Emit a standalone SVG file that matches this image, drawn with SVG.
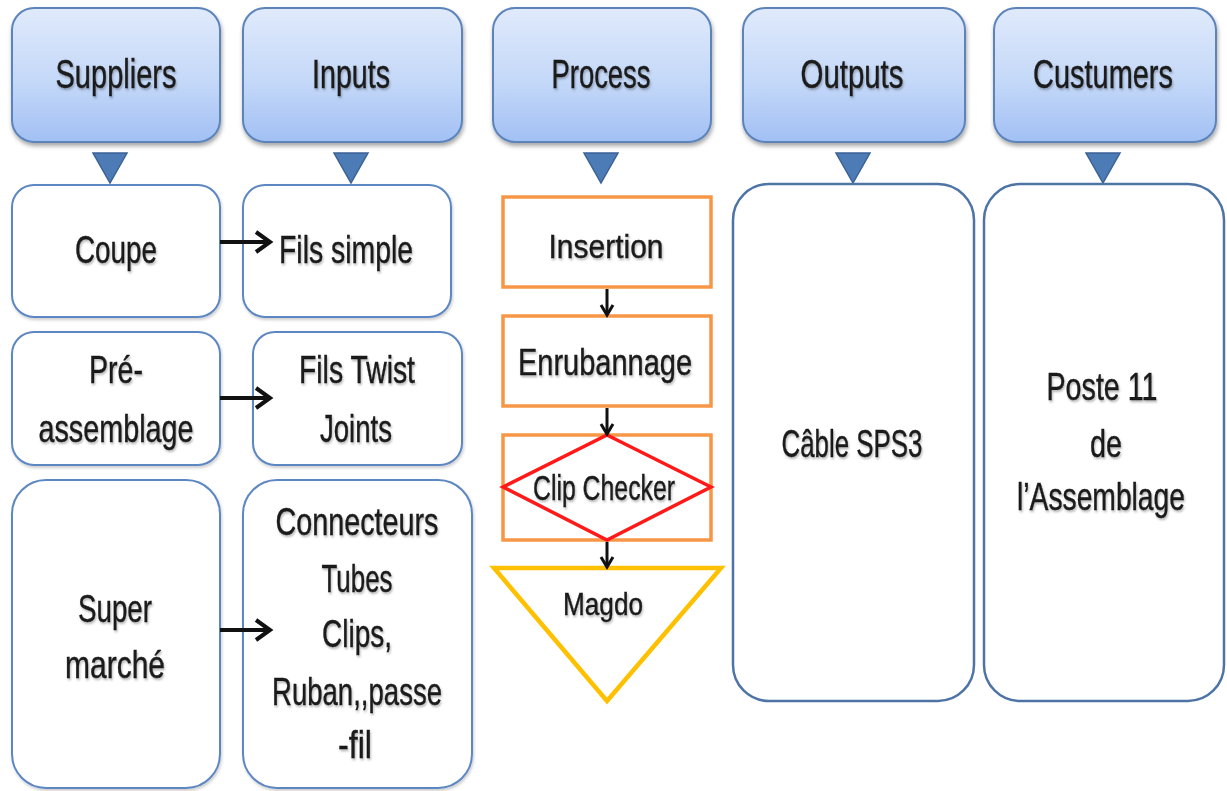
<svg xmlns="http://www.w3.org/2000/svg" width="1227" height="791" viewBox="0 0 1227 791">
  <style>
    .hdr { fill: url(#hdrGrad); stroke: #5b84bb; stroke-width: 2; filter: url(#boxShadow); }
    .box { fill: #ffffff; stroke: #5d87c2; stroke-width: 2; filter: url(#softShadow); }
    .big { fill: #ffffff; stroke: #4e74a6; stroke-width: 2.5; }
    .tri { fill: #4d7bb6; stroke: #3b6296; stroke-width: 1.5; }
    .step { fill: #ffffff; stroke: #f79646; stroke-width: 3.5; }
    .diamond { fill: none; stroke: #ff1a1a; stroke-width: 3.5; }
    .store { fill: #ffffff; stroke: #ffc000; stroke-width: 4.5; stroke-linejoin: miter; }
    .lbl { font-family: "Liberation Sans", Arial, sans-serif; fill: #1a1a1a; stroke: #1a1a1a; stroke-width: 0.4; text-anchor: middle; filter: url(#textShadow); }
    .link { stroke: #111111; stroke-width: 4; fill: none; }
    .flow { stroke: #111111; stroke-width: 3; fill: none; }
  </style>
  <defs>
    <linearGradient id="hdrGrad" x1="0" y1="0" x2="0" y2="1">
      <stop offset="0" stop-color="#e0eafb"/>
      <stop offset="0.55" stop-color="#c4d8f8"/>
      <stop offset="1" stop-color="#a2c0f4"/>
    </linearGradient>
    <filter id="boxShadow" x="-10%" y="-10%" width="125%" height="130%">
      <feDropShadow dx="1" dy="3" stdDeviation="2" flood-color="#000000" flood-opacity="0.35"/>
    </filter>
    <filter id="softShadow" x="-10%" y="-10%" width="125%" height="125%">
      <feDropShadow dx="1" dy="2" stdDeviation="1.5" flood-color="#000000" flood-opacity="0.2"/>
    </filter>
    <filter id="textShadow" x="-15%" y="-40%" width="135%" height="190%">
      <feDropShadow dx="1" dy="2" stdDeviation="1.2" flood-color="#000000" flood-opacity="0.28"/>
    </filter>
    <marker id="chevron" markerUnits="userSpaceOnUse" markerWidth="22" markerHeight="26" refX="17" refY="12" orient="auto">
      <path d="M3,2 L17,12 L3,22" fill="none" stroke="#111111" stroke-width="4"/>
    </marker>
    <marker id="chevronSmall" markerUnits="userSpaceOnUse" markerWidth="16" markerHeight="18" refX="12" refY="8" orient="auto">
      <path d="M2,2 L12,8 L2,14" fill="none" stroke="#111111" stroke-width="3"/>
    </marker>
  </defs>

  <rect width="1227" height="791" fill="#ffffff"/>

  <!-- Column headers -->
  <g id="hdr-suppliers">
    <rect class="hdr" x="12" y="8" width="208" height="134" rx="22"/>
    <text class="lbl" x="116" y="88" font-size="40" textLength="121" lengthAdjust="spacingAndGlyphs">Suppliers</text>
    <polygon class="tri" points="93,153 127,153 110,183"/>
  </g>
  <g id="hdr-inputs">
    <rect class="hdr" x="243" y="8" width="219" height="134" rx="22"/>
    <text class="lbl" x="351" y="88" font-size="40" textLength="78" lengthAdjust="spacingAndGlyphs">Inputs</text>
    <polygon class="tri" points="334,153 368,153 351,183"/>
  </g>
  <g id="hdr-process">
    <rect class="hdr" x="493" y="8" width="218" height="134" rx="22"/>
    <text class="lbl" x="601" y="88" font-size="40" textLength="99" lengthAdjust="spacingAndGlyphs">Process</text>
    <polygon class="tri" points="584,153 618,153 601,183"/>
  </g>
  <g id="hdr-outputs">
    <rect class="hdr" x="743" y="8" width="222" height="134" rx="22"/>
    <text class="lbl" x="852" y="88" font-size="40" textLength="103" lengthAdjust="spacingAndGlyphs">Outputs</text>
    <polygon class="tri" points="836,153 870,153 853,183"/>
  </g>
  <g id="hdr-custumers">
    <rect class="hdr" x="994" y="8" width="222" height="134" rx="22"/>
    <text class="lbl" x="1103" y="88" font-size="40" textLength="140" lengthAdjust="spacingAndGlyphs">Custumers</text>
    <polygon class="tri" points="1086,153 1120,153 1103,183"/>
  </g>

  <!-- Suppliers column -->
  <g id="coupe">
    <rect class="box" x="12" y="185" width="208" height="132" rx="22"/>
    <text class="lbl" x="116" y="263" font-size="39" textLength="82" lengthAdjust="spacingAndGlyphs">Coupe</text>
  </g>
  <g id="pre-assemblage">
    <rect class="box" x="12" y="332" width="208" height="133" rx="22"/>
    <text class="lbl" x="116" y="383" font-size="39" textLength="54" lengthAdjust="spacingAndGlyphs">Pré-</text>
    <text class="lbl" x="116" y="442" font-size="39" textLength="155" lengthAdjust="spacingAndGlyphs">assemblage</text>
  </g>
  <g id="super-marche">
    <rect class="box" x="12" y="480" width="208" height="308" rx="34"/>
    <text class="lbl" x="115" y="622" font-size="39" textLength="74" lengthAdjust="spacingAndGlyphs">Super</text>
    <text class="lbl" x="115" y="678" font-size="39" textLength="100" lengthAdjust="spacingAndGlyphs">marché</text>
  </g>

  <!-- Inputs column -->
  <g id="fils-simple">
    <rect class="box" x="243" y="185" width="208" height="132" rx="22"/>
    <text class="lbl" x="346" y="263" font-size="39" textLength="134" lengthAdjust="spacingAndGlyphs">Fils simple</text>
  </g>
  <g id="fils-twist">
    <rect class="box" x="253" y="332" width="209" height="133" rx="22"/>
    <text class="lbl" x="357" y="383" font-size="39" textLength="116" lengthAdjust="spacingAndGlyphs">Fils Twist</text>
    <text class="lbl" x="356" y="442" font-size="39" textLength="72" lengthAdjust="spacingAndGlyphs">Joints</text>
  </g>
  <g id="connecteurs">
    <rect class="box" x="243" y="480" width="229" height="308" rx="34"/>
    <text class="lbl" x="357" y="535" font-size="39" textLength="163" lengthAdjust="spacingAndGlyphs">Connecteurs</text>
    <text class="lbl" x="357" y="592" font-size="39" textLength="71" lengthAdjust="spacingAndGlyphs">Tubes</text>
    <text class="lbl" x="357" y="647" font-size="39" textLength="70" lengthAdjust="spacingAndGlyphs">Clips,</text>
    <text class="lbl" x="357" y="705" font-size="39" textLength="170" lengthAdjust="spacingAndGlyphs">Ruban,,passe</text>
    <text class="lbl" x="355" y="758" font-size="39" textLength="34" lengthAdjust="spacingAndGlyphs">-fil</text>
  </g>

  <!-- Process column -->
  <g id="insertion">
    <rect class="step" x="503" y="197" width="208" height="90"/>
    <text class="lbl" x="606" y="258" font-size="34" textLength="115" lengthAdjust="spacingAndGlyphs">Insertion</text>
  </g>
  <g id="enrubannage">
    <rect class="step" x="503" y="316" width="208" height="90"/>
    <text class="lbl" x="605" y="375" font-size="37" textLength="174" lengthAdjust="spacingAndGlyphs">Enrubannage</text>
  </g>
  <g id="clip-checker">
    <rect class="step" x="503" y="435" width="208" height="105"/>
    <polygon class="diamond" points="607,435 711,487 607,540 503,487"/>
    <text class="lbl" x="604" y="500" font-size="35" textLength="142" lengthAdjust="spacingAndGlyphs">Clip Checker</text>
  </g>
  <g id="magdo">
    <polygon class="store" points="494,568 721,568 607,701"/>
    <text class="lbl" x="603" y="615" font-size="32" textLength="80" lengthAdjust="spacingAndGlyphs">Magdo</text>
  </g>

  <!-- Outputs and customers -->
  <g id="cable-sps3">
    <rect class="big" x="733" y="184" width="241" height="517" rx="36"/>
    <text class="lbl" x="852" y="457" font-size="39" textLength="141" lengthAdjust="spacingAndGlyphs">Câble SPS3</text>
  </g>
  <g id="poste-11">
    <rect class="big" x="984" y="184" width="240" height="517" rx="36"/>
    <text class="lbl" x="1102" y="400" font-size="39" textLength="111" lengthAdjust="spacingAndGlyphs">Poste 11</text>
    <text class="lbl" x="1106" y="457" font-size="39" textLength="32" lengthAdjust="spacingAndGlyphs">de</text>
    <text class="lbl" x="1101" y="510" font-size="39" textLength="168" lengthAdjust="spacingAndGlyphs">l’Assemblage</text>
  </g>

  <!-- Connectors -->
  <g id="connectors">
    <line class="link" x1="220" y1="242" x2="270" y2="242" marker-end="url(#chevron)"/>
    <line class="link" x1="220" y1="398" x2="270" y2="398" marker-end="url(#chevron)"/>
    <line class="link" x1="220" y1="630" x2="270" y2="630" marker-end="url(#chevron)"/>
    <line class="flow" x1="607" y1="289" x2="607" y2="315" marker-end="url(#chevronSmall)"/>
    <line class="flow" x1="607" y1="408" x2="607" y2="434" marker-end="url(#chevronSmall)"/>
    <line class="flow" x1="607" y1="542" x2="607" y2="567" marker-end="url(#chevronSmall)"/>
  </g>
</svg>
